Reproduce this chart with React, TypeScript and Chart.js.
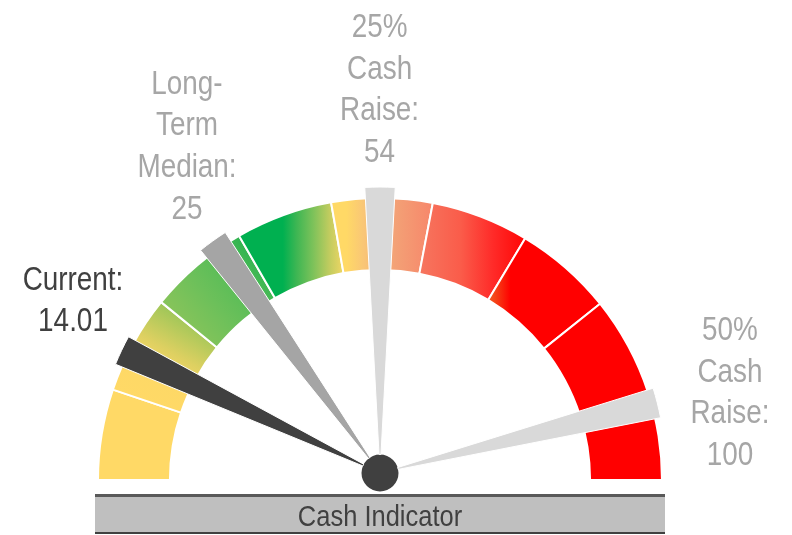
import React, { useEffect, useRef } from "react";
import { Chart, registerables } from "chart.js";

Chart.register(...registerables);

// ---------- data ----------
// Gauge bands: edges in degrees along the dial (0 = left end, 180 = right end)
const bandEdges = [0, 18.7, 39.1, 60, 80, 100.8, 121, 141.3, 162, 180];
// gradient direction of each band (degrees, 0 = left→right)
const bandDirections = [0, 60, 40, 0, 0, 0, 0, 0, 0];
const bandStops: [number, string][][] = [
  [[0, "#FFD966"], [1, "#FFD966"]],
  [[0, "#FFD966"], [0.38, "#FDD866"], [0.62, "#DDD061"], [1, "#9CC658"]],
  [[0, "#88C45A"], [0.4, "#6CC05A"], [0.75, "#55BC57"], [1, "#2EB350"]],
  [[0, "#00B050"], [0.42, "#00B050"], [0.55, "#3DB653"], [0.71, "#7DC25A"], [0.87, "#C3CC5F"], [1, "#F0D664"]],
  [[0, "#FFD966"], [0.15, "#FFD966"], [0.32, "#F9C676"], [0.63, "#F3A176"], [1, "#F7866A"]],
  [[0, "#F6765F"], [0.39, "#FA5C4A"], [0.7, "#FF2A28"], [1, "#FF0505"]],
  [[0, "#EF5B23"], [0.06, "#F54418"], [0.2, "#FF0000"], [1, "#FF0000"]],
  [[0, "#FF0000"], [1, "#FF0000"]],
  [[0, "#FF0000"], [1, "#FF0000"]],
];

// Needles
const needleNameLines = [["Current:"], ["Long-", "Term", "Median:"], ["25%", "Cash", "Raise:"], ["50%", "Cash", "Raise:"]];
const needleValues = [14.01, 25, 54, 100];
const needleAngles = [25.4, 54.2, 90, 165.8]; // dial position (degrees from the left end)
const needleColors = ["#404040", "#A5A5A5", "#D9D9D9", "#D9D9D9"];
const labelColors = ["#404040", "#A6A6A6", "#A6A6A6", "#A6A6A6"];
const caption = "Cash Indicator";

// ---------- layout ----------
const W = 792;
const H = 535;
const GAUGE_RADIUS = 282;
const GAUGE_CUTOUT = 0.745;
const NEEDLE_RADIUS = 286;
const HUB_RADIUS = 18.5;
const NEEDLE_WIDTH = 6.1;
const labelPos = [
  { x: 73, y: 289.5 },
  { x: 187, y: 93.5 },
  { x: 379.6, y: 37 },
  { x: 730, y: 340 },
];
const LINE_H = 41.7;
const FONT = '"Liberation Sans", Arial, sans-serif';
const NARROW = 0.82;

function bandFill(context: any) {
  const i = context.dataIndex;
  if (i >= bandEdges.length - 1) return "rgba(0,0,0,0)";
  const stops = bandStops[i];
  const chart = context.chart;
  const area = chart.chartArea;
  if (!area) return stops[0][1];
  const cx = (area.left + area.right) / 2;
  const cy = (area.top + area.bottom) / 2;
  const rOut = GAUGE_RADIUS;
  const rIn = GAUGE_RADIUS * GAUGE_CUTOUT;
  const pts: number[][] = [];
  for (const a of [bandEdges[i], bandEdges[i + 1]]) {
    for (const r of [rIn, rOut]) {
      const t = (a * Math.PI) / 180;
      pts.push([cx - r * Math.cos(t), cy - r * Math.sin(t)]);
    }
  }
  if (bandEdges[i] < 90 && bandEdges[i + 1] > 90) pts.push([cx, cy - rOut]);
  const phi = (bandDirections[i] * Math.PI) / 180;
  const dx = Math.cos(phi);
  const dy = -Math.sin(phi);
  let min = Infinity;
  let max = -Infinity;
  let pMin = pts[0];
  pts.forEach((p) => {
    const v = p[0] * dx + p[1] * dy;
    if (v < min) {
      min = v;
      pMin = p;
    }
    if (v > max) max = v;
  });
  const len = Math.max(max - min, 1);
  const g = chart.ctx.createLinearGradient(pMin[0], pMin[1], pMin[0] + dx * len, pMin[1] + dy * len);
  stops.forEach(([o, c]) => g.addColorStop(o, c));
  return g;
}

const labelPlugin = {
  id: "needleLabels",
  afterDraw(chart: any) {
    const c = chart.ctx as CanvasRenderingContext2D;
    c.save();
    c.textAlign = "center";
    c.textBaseline = "alphabetic";
    c.font = `34px ${FONT}`;
    needleNameLines.forEach((nameLines, i) => {
      const lines = [...nameLines, String(needleValues[i])];
      c.fillStyle = labelColors[i];
      lines.forEach((t, j) => {
        c.save();
        c.translate(labelPos[i].x, labelPos[i].y + j * LINE_H);
        c.scale(NARROW, 1);
        c.fillText(t, 0, 0);
        c.restore();
      });
    });
    c.font = `30px ${FONT}`;
    c.fillStyle = "#404040";
    c.save();
    c.translate(380, 525.5);
    c.scale(0.85, 1);
    c.fillText(caption, 0, 0);
    c.restore();
    c.restore();
  },
};

export default function App() {
  const gaugeRef = useRef<HTMLCanvasElement>(null);
  const needleRef = useRef<HTMLCanvasElement>(null);

  useEffect(() => {
    const bandSizes = bandEdges.slice(1).map((e, i) => e - bandEdges[i]);
    const gauge = new Chart(gaugeRef.current!, {
      type: "doughnut",
      data: {
        labels: [...bandSizes.map((_, i) => `Band ${i + 1}`), ""],
        datasets: [
          {
            data: [...bandSizes, 180],
            backgroundColor: bandFill as any,
            borderColor: "#FFFFFF",
            borderWidth: [...bandSizes.map(() => 2), 0],
            clip: false as any,
          },
        ],
      },
      options: {
        animation: false,
        responsive: false,
        devicePixelRatio: 1,
        events: [],
        rotation: -90,
        circumference: 360,
        radius: GAUGE_RADIUS,
        cutout: `${GAUGE_CUTOUT * 100}%`,
        layout: { padding: { left: 0, right: 32, top: 425, bottom: 0 } },
        plugins: { legend: { display: false }, tooltip: { enabled: false } },
      } as any,
    });

    const pieData: number[] = [];
    const pieColors: string[] = [];
    const pieBorders: number[] = [];
    let pos = 0;
    needleAngles.forEach((a, i) => {
      const s = a - NEEDLE_WIDTH / 2;
      pieData.push(s - pos);
      pieColors.push("rgba(0,0,0,0)");
      pieBorders.push(0);
      pieData.push(NEEDLE_WIDTH);
      pieColors.push(needleColors[i]);
      pieBorders.push(1);
      pos = s + NEEDLE_WIDTH;
    });
    pieData.push(360 - pos);
    pieColors.push("rgba(0,0,0,0)");
    pieBorders.push(0);

    const needles = new Chart(needleRef.current!, {
      type: "pie",
      data: {
        datasets: [
          {
            data: pieData,
            backgroundColor: pieColors,
            borderColor: "#FFFFFF",
            borderWidth: pieBorders,
            weight: NEEDLE_RADIUS - HUB_RADIUS,
            clip: false as any,
          } as any,
          {
            data: [1],
            backgroundColor: ["#404040"],
            borderWidth: 0,
            weight: HUB_RADIUS,
            clip: false as any,
          } as any,
        ],
      },
      options: {
        animation: false,
        responsive: false,
        devicePixelRatio: 1,
        events: [],
        rotation: -90,
        circumference: 360,
        radius: NEEDLE_RADIUS,
        cutout: 0,
        layout: { padding: { left: 0, right: 32, top: 411, bottom: 0 } },
        plugins: { legend: { display: false }, tooltip: { enabled: false } },
      } as any,
      plugins: [labelPlugin],
    });

    return () => {
      gauge.destroy();
      needles.destroy();
    };
  }, []);

  return (
    <div
      style={{
        position: "fixed",
        left: 0,
        top: 0,
        width: W,
        height: H,
        overflow: "hidden",
        background: "#FFFFFF",
      }}
    >
      <div
        style={{
          position: "absolute",
          left: 95,
          top: 494,
          width: 570,
          height: 35,
          background: "#BFBFBF",
          borderTop: "3px solid #595959",
          borderBottom: "2px solid #404040",
        }}
      />
      <canvas ref={gaugeRef} width={W} height={H} style={{ position: "absolute", left: 0, top: 0 }} />
      <canvas ref={needleRef} width={W} height={H} style={{ position: "absolute", left: 0, top: 0 }} />
    </div>
  );
}
